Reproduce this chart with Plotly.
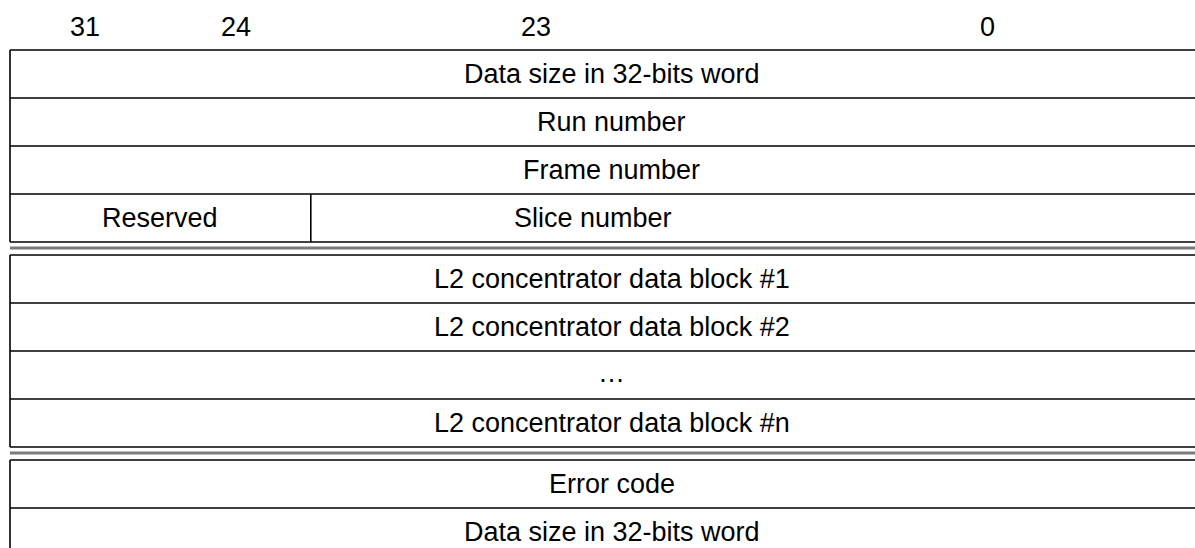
import plotly.graph_objects as go

# ---- data ----
bit_headers = ["31", "24", "23", "0"]
header_spans = [(32, 28), (28, 24), (24, 12), (12, 0)]   # bit columns of the header labels

block_header = ["Data size in 32-bits word", "Run number", "Frame number"]
split_row = ["Reserved", "Slice number"]                  # bits 31..24 | 23..0
split_bit = 24
block_data = ["L2 concentrator data block #1", "L2 concentrator data block #2",
              "\u2026", "L2 concentrator data block #n"]
block_trailer = ["Error code", "Data size in 32-bits word"]

# ---- layout constants (pixels of the page) ----
W, H = 1195, 548
X0 = 10.0          # left border
PX_PER_BIT = 37.6
TOP = 50.0
ROW_H = 48.0
GAP = 13.0
FONT = dict(family="Liberation Sans, Arial, sans-serif", size=27, color="black")
LINE = dict(color="black", width=1.6)
DOUBLE = dict(color="#7a7a7a", width=3)


def bx(bit):
    return X0 + (32 - bit) * PX_PER_BIT


fig = go.Figure()
shapes, annots = [], []

# header labels
for lab, (a, b) in zip(bit_headers, header_spans):
    annots.append(dict(x=(bx(a) + bx(b)) / 2, y=26.5, text=lab, showarrow=False,
                       font=FONT, xanchor="center", yanchor="middle"))

blocks = [block_header + [split_row], block_data, block_trailer]
y = TOP
for bi, rows in enumerate(blocks):
    ytop = y
    shapes.append(dict(type="line", x0=bx(32), x1=bx(0), y0=y, y1=y, line=LINE))
    for r in rows:
        yc = y + ROW_H / 2
        if isinstance(r, list):
            shapes.append(dict(type="line", x0=bx(split_bit), x1=bx(split_bit),
                               y0=y, y1=y + ROW_H, line=LINE))
            annots.append(dict(x=(bx(32) + bx(split_bit)) / 2, y=yc, text=r[0],
                               showarrow=False, font=FONT, yanchor="middle"))
            annots.append(dict(x=593, y=yc, text=r[1],
                               showarrow=False, font=FONT, yanchor="middle"))
        else:
            ys = 2 if r == "\u2026" else 0
            annots.append(dict(x=(bx(32) + bx(0)) / 2, y=yc, text=r, showarrow=False,
                               font=FONT, yanchor="middle", yshift=ys))
        y += ROW_H
        shapes.append(dict(type="line", x0=bx(32), x1=bx(0), y0=y, y1=y, line=LINE))
    shapes.append(dict(type="line", x0=bx(32), x1=bx(32), y0=ytop, y1=y, line=LINE))
    if bi < len(blocks) - 1:
        shapes.append(dict(type="line", x0=bx(32), x1=bx(0), y0=y + GAP / 2 - 0.5,
                           y1=y + GAP / 2 - 0.5, line=DOUBLE))
    y += GAP

fig.update_layout(
    width=W, height=H, margin=dict(l=0, r=0, t=0, b=0),
    paper_bgcolor="white", plot_bgcolor="white",
    xaxis=dict(range=[0, W], visible=False, fixedrange=True),
    yaxis=dict(range=[H, 0], visible=False, fixedrange=True),
    shapes=shapes, annotations=annots, showlegend=False,
)
fig.write_html(
    "out.html",
    config={"displayModeBar": False},
    post_script="document.body.style.margin='0';document.body.style.overflow='hidden';",
)
